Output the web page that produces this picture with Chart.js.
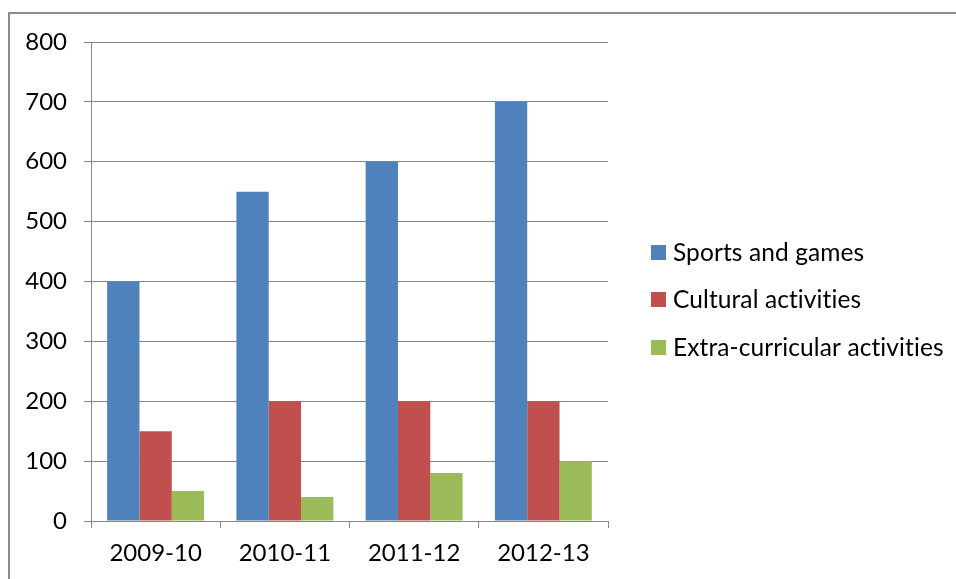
<!DOCTYPE html>
<html>
<head>
<meta charset="utf-8">
<script src="https://cdn.jsdelivr.net/npm/chart.js@4/dist/chart.umd.min.js"></script>
<style>
  html, body { margin: 0; padding: 0; background: #fff; }
  #wrap { position: relative; width: 956px; height: 579px; }
  #frame { position: absolute; left: 8px; top: 12px; width: 960px; height: 580px;
           border-left: 2px solid #8c8c8c; border-top: 2px solid #8c8c8c; }
  canvas { position: absolute; left: 0; top: 0; }
</style>
</head>
<body>
<div id="wrap">
  <div id="frame"></div>
  <canvas id="chart" width="956" height="579"></canvas>
</div>
<script>
// Chart data
const categories = ['2009-10', '2010-11', '2011-12', '2012-13'];
const sportsAndGames = [400, 550, 600, 700];
const culturalActivities = [150, 200, 200, 200];
const extraCurricular = [50, 40, 80, 100];
const yTicks = [0, 100, 200, 300, 400, 500, 600, 700, 800];

const FONT = 'Lato';
const FONT_SIZE = 24;
const LEGEND_SIZE = 24.5;
const GRID = '#868686';

// Legend on the right, drawn at fixed spot like the excel one
const sideLegend = {
  id: 'sideLegend',
  afterDraw(chart) {
    const ctx = chart.ctx;
    const rows = [252, 299, 347];
    ctx.save();
    ctx.font = LEGEND_SIZE + 'px ' + FONT;
    ctx.textBaseline = 'middle';
    ctx.textAlign = 'left';
    // tiny spacing so lato doesn't join "ti"
    if ('letterSpacing' in ctx) ctx.letterSpacing = '0.1px';
    chart.data.datasets.forEach((ds, i) => {
      ctx.fillStyle = ds.backgroundColor;
      ctx.fillRect(651, rows[i] - 7, 15, 15);
      ctx.fillStyle = '#000';
      ctx.fillText(ds.label, 673, rows[i] + 1);
    });
    ctx.restore();
  }
};

new Chart(document.getElementById('chart'), {
  type: 'bar',
  data: {
    labels: categories,
    datasets: [
      { label: 'Sports and games', data: sportsAndGames, backgroundColor: '#4F81BD' },
      { label: 'Cultural activities', data: culturalActivities, backgroundColor: '#C0504D' },
      { label: 'Extra-curricular activities', data: extraCurricular, backgroundColor: '#9BBB59' },
    ],
  },
  options: {
    responsive: false,
    animation: false,
    layout: { padding: { left: 0, top: 42, right: 348, bottom: 0 } },
    datasets: { bar: { categoryPercentage: 0.75, barPercentage: 1.0 } },
    plugins: { legend: { display: false }, tooltip: { enabled: false } },
    scales: {
      y: {
        min: 0,
        max: 800,
        afterFit: (s) => { s.width = 91; },
        afterBuildTicks: (s) => { s.ticks = yTicks.map((v) => ({ value: v })); },
        ticks: { color: '#000', padding: 17, font: { family: FONT, size: FONT_SIZE } },
        grid: { color: GRID, tickLength: 7, lineWidth: 1 },
        border: { color: GRID, width: 1 },
      },
      x: {
        afterFit: (s) => { s.height = 58; },
        ticks: { color: '#000', padding: 11, font: { family: FONT, size: FONT_SIZE } },
        grid: { display: true, drawOnChartArea: false, drawTicks: true, tickLength: 7, color: GRID, offset: true },
        border: { color: GRID, width: 1 },
      },
    },
  },
  plugins: [sideLegend],
});
</script>
</body>
</html>
